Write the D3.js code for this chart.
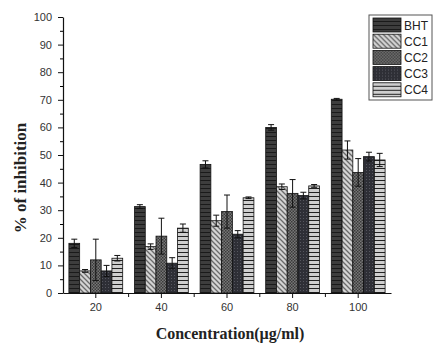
<!DOCTYPE html>
<html>
<head>
<meta charset="utf-8">
<script src="https://cdn.jsdelivr.net/npm/d3@7"></script>
<style>
  body { margin: 0; background: #fff; }
  svg { display: block; }
</style>
</head>
<body>
<div id="chart"></div>
<script>
const concentrations = ["20", "40", "60", "80", "100"];
const seriesNames = ["BHT", "CC1", "CC2", "CC3", "CC4"];

const bhtValues = [18.0, 31.3, 46.6, 60.0, 70.2];
const cc1Values = [8.0, 16.8, 26.2, 38.5, 51.8];
const cc2Values = [12.0, 20.6, 29.5, 36.1, 43.7];
const cc3Values = [8.0, 10.8, 21.3, 35.3, 49.4];
const cc4Values = [12.6, 23.5, 34.5, 38.8, 48.2];

const bhtErrors = [1.5, 0.7, 1.3, 1.0, 0.3];
const cc1Errors = [0.5, 1.0, 2.0, 1.0, 3.3];
const cc2Errors = [7.5, 6.5, 6.0, 5.0, 5.0];
const cc3Errors = [2.0, 2.0, 1.3, 1.2, 1.6];
const cc4Errors = [1.0, 1.5, 0.3, 0.5, 2.4];

const yTicks = [0, 10, 20, 30, 40, 50, 60, 70, 80, 90, 100];

const values = [bhtValues, cc1Values, cc2Values, cc3Values, cc4Values];
const errors = [bhtErrors, cc1Errors, cc2Errors, cc3Errors, cc4Errors];

const data = [];
concentrations.forEach((c, i) => {
    seriesNames.forEach((s, j) => {
        data.push({ conc: c, series: s, value: values[j][i], err: errors[j][i] });
    });
});

const width = 438, height = 353;
const margin = { top: 17, right: 47, bottom: 60, left: 63 };
const innerW = width - margin.left - margin.right;
const innerH = height - margin.top - margin.bottom;

const svg = d3.select('#chart').append('svg')
    .attr('width', width)
    .attr('height', height);

// fill patterns for each series
const defs = svg.append('defs');

const pBHT = defs.append('pattern').attr('id', 'p-BHT')
    .attr('patternUnits', 'userSpaceOnUse').attr('width', 6).attr('height', 4);
pBHT.append('rect').attr('width', 6).attr('height', 4).attr('fill', '#3d3d3d');
pBHT.append('rect').attr('y', 3).attr('width', 6).attr('height', 1).attr('fill', '#1a1a1a');

const pCC1 = defs.append('pattern').attr('id', 'p-CC1')
    .attr('patternUnits', 'userSpaceOnUse').attr('width', 5).attr('height', 5);
pCC1.append('rect').attr('width', 5).attr('height', 5).attr('fill', '#d4d4d4');
pCC1.append('path').attr('d', 'M-1,-1 L6,6 M-1,4 L1,6 M4,-1 L6,1')
    .attr('stroke', '#6a6a6a').attr('stroke-width', 1.3);

const pCC2 = defs.append('pattern').attr('id', 'p-CC2')
    .attr('patternUnits', 'userSpaceOnUse').attr('width', 3).attr('height', 3);
pCC2.append('rect').attr('width', 3).attr('height', 3).attr('fill', '#777');
pCC2.append('rect').attr('width', 1.5).attr('height', 1.5).attr('fill', '#3a3a3a');
pCC2.append('rect').attr('x', 1.5).attr('y', 1.5).attr('width', 1.5).attr('height', 1.5).attr('fill', '#3a3a3a');

const pCC3 = defs.append('pattern').attr('id', 'p-CC3')
    .attr('patternUnits', 'userSpaceOnUse').attr('width', 3).attr('height', 3);
pCC3.append('rect').attr('width', 3).attr('height', 3).attr('fill', '#2e2f36');
pCC3.append('rect').attr('width', 1).attr('height', 1).attr('fill', '#55565e');

const pCC4 = defs.append('pattern').attr('id', 'p-CC4')
    .attr('patternUnits', 'userSpaceOnUse').attr('width', 6).attr('height', 4);
pCC4.append('rect').attr('width', 6).attr('height', 4).attr('fill', '#cfcfcf');
pCC4.append('rect').attr('y', 3).attr('width', 6).attr('height', 1).attr('fill', '#222');

const fillFor = s => `url(#p-${s})`;

const viz = svg.append('g')
    .attr('transform', `translate(${margin.left},${margin.top})`);

const x0 = d3.scaleBand().domain(concentrations).range([0, innerW])
    .paddingInner(0.18).paddingOuter(0.09);
const x1 = d3.scaleBand().domain(seriesNames).range([0, x0.bandwidth()]).padding(0);
const y = d3.scaleLinear().domain([0, 100]).range([innerH, 0]);

// bars
viz.selectAll('rect.bar')
    .data(data)
    .join('rect')
    .attr('class', 'bar')
    .attr('x', d => x0(d.conc) + x1(d.series))
    .attr('y', d => y(d.value))
    .attr('width', x1.bandwidth())
    .attr('height', d => innerH - y(d.value))
    .attr('fill', d => fillFor(d.series))
    .attr('stroke', '#111')
    .attr('stroke-width', 0.8);

// error bars
const eb = viz.selectAll('g.err')
    .data(data)
    .join('g')
    .attr('class', 'err')
    .attr('transform', d => `translate(${x0(d.conc) + x1(d.series) + x1.bandwidth() / 2},0)`);
eb.append('line')
    .attr('y1', d => y(d.value - d.err))
    .attr('y2', d => y(d.value + d.err))
    .attr('stroke', '#111').attr('stroke-width', 1);
eb.append('line')
    .attr('x1', -3).attr('x2', 3)
    .attr('y1', d => y(d.value + d.err)).attr('y2', d => y(d.value + d.err))
    .attr('stroke', '#111').attr('stroke-width', 1);
eb.append('line')
    .attr('x1', -3).attr('x2', 3)
    .attr('y1', d => y(d.value - d.err)).attr('y2', d => y(d.value - d.err))
    .attr('stroke', '#111').attr('stroke-width', 1);

// y axis
const yAxis = viz.append('g')
    .call(d3.axisLeft(y).tickValues(yTicks).tickSize(5).tickSizeOuter(0).tickPadding(6));
viz.append('g')
    .call(d3.axisLeft(y).tickValues(d3.range(5, 100, 10)).tickSize(3).tickFormat('').tickSizeOuter(0))
    .select('.domain').remove();

// x axis: major ticks at group centres, minor ticks at group borders
const xAxis = viz.append('g')
    .attr('transform', `translate(0,${innerH})`)
    .call(d3.axisBottom(x0).tickSize(5).tickSizeOuter(0).tickPadding(5));
const borders = concentrations.slice(1).map(c => x0(c) - x0.step() * x0.paddingInner() / 2);
viz.append('g')
    .attr('transform', `translate(0,${innerH})`)
    .selectAll('line')
    .data(borders)
    .join('line')
    .attr('x1', d => d).attr('x2', d => d)
    .attr('y1', 0).attr('y2', 4)
    .attr('stroke', '#111');

[yAxis, xAxis].forEach(ax => {
    ax.selectAll('.domain').attr('stroke', '#111').attr('stroke-width', 1.2);
    ax.selectAll('.tick line').attr('stroke', '#111');
    ax.selectAll('.tick text')
        .attr('fill', '#333')
        .style('font-family', '"Liberation Sans", Arial, sans-serif')
        .style('font-size', '11px');
});

// axis titles
svg.append('text')
    .attr('x', margin.left + innerW / 2 + 3)
    .attr('y', 339)
    .attr('text-anchor', 'middle')
    .style('font-family', '"Liberation Serif", "Times New Roman", serif')
    .style('font-weight', 'bold')
    .style('font-size', '16px')
    .attr('fill', '#222')
    .text('Concentration(µg/ml)');

svg.append('text')
    .attr('transform', 'translate(26,178) rotate(-90)')
    .attr('text-anchor', 'middle')
    .style('font-family', '"Liberation Serif", "Times New Roman", serif')
    .style('font-weight', 'bold')
    .style('font-size', '17px')
    .attr('fill', '#222')
    .text('% of inhibition');

// legend
const legend = svg.append('g').attr('transform', 'translate(369,15)');
legend.append('rect')
    .attr('width', 63).attr('height', 85)
    .attr('fill', '#fff').attr('stroke', '#555').attr('stroke-width', 1);
const items = legend.selectAll('g.item')
    .data(seriesNames)
    .join('g')
    .attr('class', 'item')
    .attr('transform', (d, i) => `translate(4,${3 + i * 16.2})`);
items.append('rect')
    .attr('width', 28).attr('height', 14)
    .attr('fill', d => fillFor(d))
    .attr('stroke', '#111').attr('stroke-width', 0.8);
items.append('text')
    .attr('x', 31).attr('y', 11.5)
    .style('font-family', '"Liberation Sans", Arial, sans-serif')
    .style('font-size', '12px')
    .attr('fill', '#222')
    .text(d => d);
</script>
</body>
</html>
